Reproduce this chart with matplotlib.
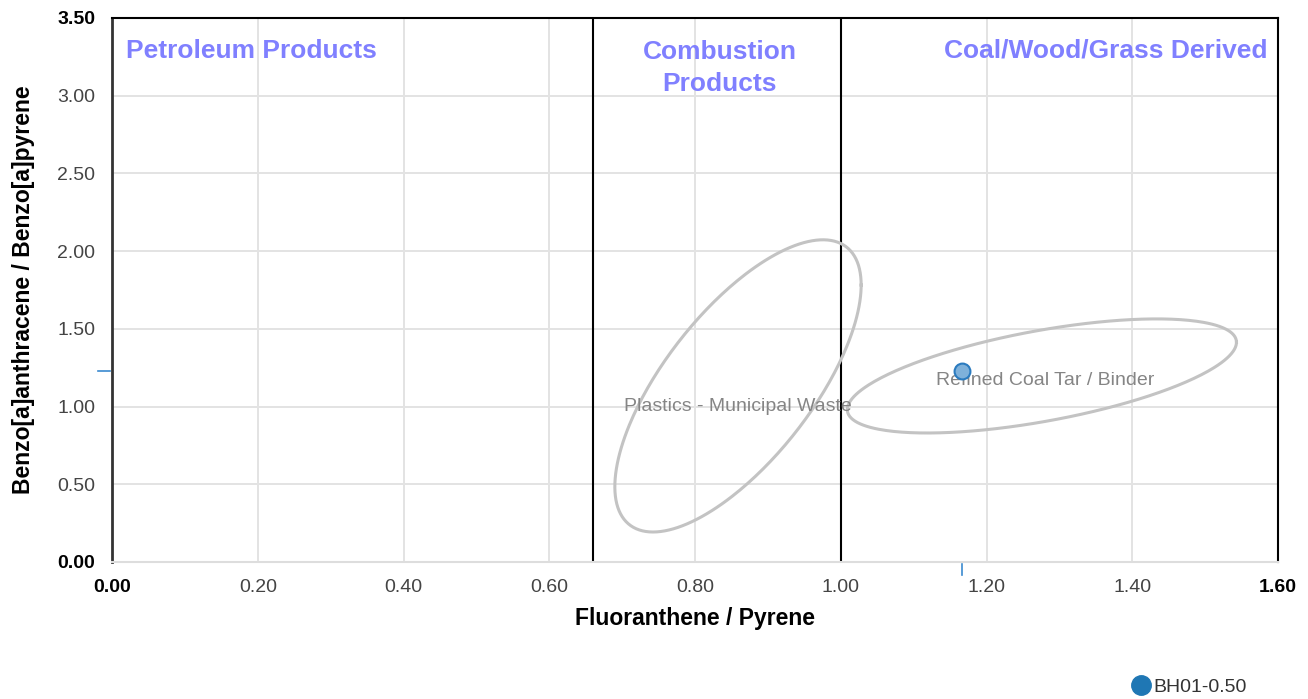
import numpy as np
import matplotlib.pyplot as plt

# sample point
sample_name = 'BH01-0.50'
flu_pyr = [1.166]
baa_bap = [1.229]

# source fields: centre, spread in x and y, correlation
field_names = ['Plastics - Municipal Waste', 'Refined Coal Tar / Binder']
field_cx = [0.859, 1.276]
field_cy = [1.133, 1.197]
field_sx = [0.169, 0.267]
field_sy = [0.940, 0.367]
field_rho = [0.69, 0.59]
field_label_xy = [(0.859, 1.0), (1.28, 1.17)]

# region boundaries on the ratio axis
boundaries = [0.66, 1.00]

x_ticks = np.arange(0, 1.61, 0.2)
y_ticks = np.arange(0, 3.51, 0.5)

plt.rcParams['font.family'] = ['Liberation Sans', 'DejaVu Sans']

fig = plt.figure(figsize=(13.08, 6.99), dpi=100)
ax = fig.add_axes([112 / 1308, 1 - 562 / 699, 1166 / 1308, 544 / 699])

ax.set_xlim(0, 1.6)
ax.set_ylim(0, 3.5)
ax.set_xticks(x_ticks)
ax.set_yticks(y_ticks)
ax.set_xticklabels(['%.2f' % v for v in x_ticks])
ax.set_yticklabels(['%.2f' % v for v in y_ticks])
ax.tick_params(length=0, labelsize=14, labelcolor='#444444')
ax.tick_params(axis='x', pad=12)
ax.tick_params(axis='y', pad=12)
for labels in (ax.get_xticklabels(), ax.get_yticklabels()):
    for i in (0, -1):
        labels[i].set_fontweight('bold')
        labels[i].set_color('black')

ax.grid(True, color='#e3e3e3', linewidth=1.4)
ax.set_axisbelow(True)

ax.spines['left'].set_color('#333333')
ax.spines['left'].set_linewidth(2)
ax.spines['top'].set_color('black')
ax.spines['top'].set_linewidth(1.5)
ax.spines['right'].set_color('black')
ax.spines['right'].set_linewidth(1.5)
ax.spines['bottom'].set_color('#dddddd')
ax.spines['bottom'].set_linewidth(1.5)

for b in boundaries:
    ax.axvline(b, color='black', linewidth=1.5, zorder=2)

# source field ellipses
t = np.linspace(0, 2 * np.pi, 300)
for i in range(len(field_names)):
    sx, sy, r = field_sx[i], field_sy[i], field_rho[i]
    cov = np.array([[sx * sx, r * sx * sy], [r * sx * sy, sy * sy]])
    L = np.linalg.cholesky(cov)
    pts = L @ np.vstack([np.cos(t), np.sin(t)])
    ax.plot(field_cx[i] + pts[0], field_cy[i] + pts[1], color='#c3c3c3', linewidth=2.2, zorder=3)
    lx, ly = field_label_xy[i]
    ax.text(lx, ly, field_names[i], color='#858585', fontsize=14, ha='center', va='center', zorder=4)

# region headings
region_color = '#8080ff'
ax.text(0.019, 3.29, 'Petroleum Products', color=region_color, fontsize=19, fontweight='bold', ha='left', va='center')
ax.text(0.834, 3.18, 'Combustion\nProducts', color=region_color, fontsize=19, fontweight='bold', ha='center', va='center', linespacing=1.4)
ax.text(1.586, 3.29, 'Coal/Wood/Grass Derived', color=region_color, fontsize=19, fontweight='bold', ha='right', va='center')

ax.scatter(flu_pyr, baa_bap, s=130, facecolor='#7fb1da', edgecolor='#2b7bbf', linewidth=1.5, zorder=5)

# rug ticks for the sample on both axes
for x in flu_pyr:
    ax.plot([x, x], [-0.004, -0.024], transform=ax.get_xaxis_transform(), color='#3b8ad0', linewidth=1.2, clip_on=False)
for y in baa_bap:
    ax.plot([-0.012, -0.002], [y, y], transform=ax.get_yaxis_transform(), color='#3b8ad0', linewidth=1.2, clip_on=False)

ax.set_xlabel('Fluoranthene / Pyrene', fontsize=16.5, fontweight='bold', labelpad=8)
ax.set_ylabel('Benzo[a]anthracene / Benzo[a]pyrene', fontsize=16.5, fontweight='bold', labelpad=16)

handle = plt.Line2D([], [], marker='o', linestyle='none', markersize=14, markerfacecolor='#1f77b4', markeredgecolor='#1f77b4')
fig.legend([handle], [sample_name], loc='center', bbox_to_anchor=(1188 / 1308, 1 - 687 / 699), frameon=False,
           fontsize=14, handletextpad=0.05, borderpad=0, handlelength=1.2, labelcolor='#333333')

fig.savefig('out.png', dpi=100)
